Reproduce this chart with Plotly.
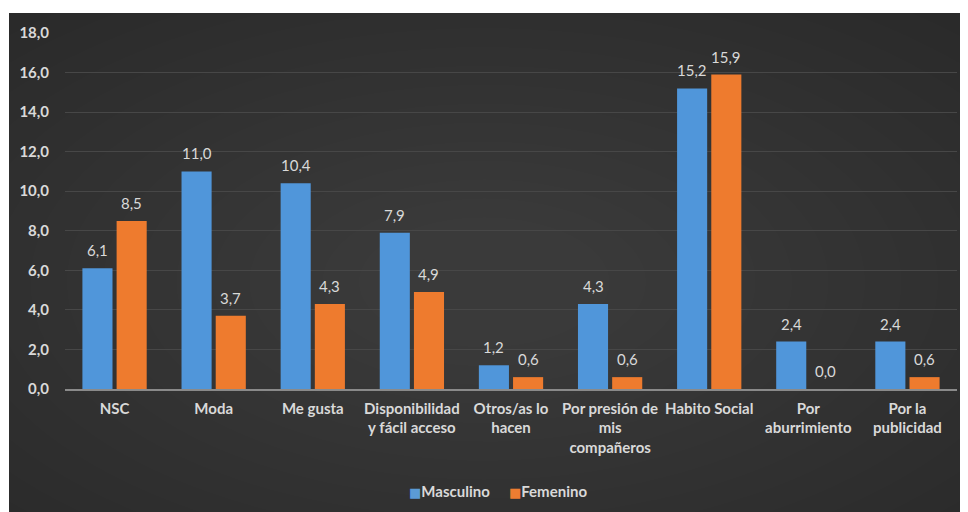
import plotly.graph_objects as go

categories = ["NSC", "Moda", "Me gusta", "Disponibilidad<br>y fácil acceso", "Otros/as lo<br>hacen",
              "Por presión de<br>mis<br>compañeros", "Habito Social", "Por<br>aburrimiento", "Por la<br>publicidad"]
masculino = [6.1, 11.0, 10.4, 7.9, 1.2, 4.3, 15.2, 2.4, 2.4]
femenino = [8.5, 3.7, 4.3, 4.9, 0.6, 0.6, 15.9, 0.0, 0.6]
y_ticks = [0, 2, 4, 6, 8, 10, 12, 14, 16, 18]
series_names = ["Masculino", "Femenino"]
series_colors = ["#5096da", "#ee7b2e"]

FONT = "Lato, 'Open Sans', sans-serif"
TXT = "#d9d9d9"

W, H = 960, 504
ML, MR, MT, MB = 57, 11, 25, 123
BARGAP, GROUPGAP = 0.31, 0.12
plot_w = W - ML - MR

fig = go.Figure()
for name, vals, col in zip(series_names, [masculino, femenino], series_colors):
    fig.add_trace(go.Bar(x=categories, y=vals, name=name,
                         marker=dict(color=col, line=dict(width=0)), showlegend=False))

# data labels above each bar (lifted a bit more than plotly's default outside text)
slot_px = plot_w / len(categories) * (1 - BARGAP) / 2
annotations = []
for k, vals in enumerate([masculino, femenino]):
    shift = (k - 0.5) * slot_px
    for c, v in zip(categories, vals):
        annotations.append(dict(x=c, y=v, xref="x", yref="y", text=f"{v:.1f}".replace(".", ","),
                                showarrow=False, xshift=shift, yshift=7, yanchor="bottom",
                                font=dict(size=15, color=TXT, family=FONT)))

# legend drawn as text
for name, col, px in zip(series_names, ["#5b9bd5", "#ed7d31"], [0.431, 0.541]):
    annotations.append(dict(xref="paper", yref="paper", x=px, y=-0.2865, xanchor="center", yanchor="middle",
                            showarrow=False,
                            text=f"<span style='color:{col};font-family:DejaVu Sans;font-size:13px'>■</span><b>{name}</b>",
                            font=dict(size=15, color=TXT, family=FONT)))

# background panel (dark, lighter towards the centre)
X0, Y1, Y0, X1 = -0.0628, 1.0562, -0.5, 1.05
shapes = [dict(type="rect", xref="paper", yref="paper", x0=X0, x1=X1, y0=Y0, y1=Y1,
               fillcolor="#242424", line=dict(width=0), layer="below")]
cx, cy = 0.47, 0.3
n = 22
for i in range(n):
    r = 1.0 - i * (0.9 / n)
    shapes.append(dict(type="circle", xref="paper", yref="paper",
                       x0=cx - r, x1=cx + r, y0=cy - r * 1.3, y1=cy + r * 1.3,
                       fillcolor="rgba(255,255,255,0.0095)", line=dict(width=0), layer="below"))
shapes.append(dict(type="rect", xref="paper", yref="paper", x0=-0.3, x1=X0, y0=-0.6, y1=1.3,
                   fillcolor="white", line=dict(width=0), layer="below"))
shapes.append(dict(type="rect", xref="paper", yref="paper", x0=-0.3, x1=1.3, y0=Y1, y1=1.3,
                   fillcolor="white", line=dict(width=0), layer="below"))

fig.update_layout(
    width=W, height=H,
    margin=dict(l=ML, r=MR, t=MT, b=MB, autoexpand=False),
    paper_bgcolor="white", plot_bgcolor="rgba(0,0,0,0)",
    separators=",.",
    barmode="group", bargap=BARGAP, bargroupgap=GROUPGAP,
    font=dict(family=FONT, color=TXT),
    showlegend=False,
    shapes=shapes,
    annotations=annotations,
)
fig.update_yaxes(range=[0, 18], tickvals=y_ticks, tickformat=".1f", automargin=False,
                 gridcolor="#474747", gridwidth=1, zeroline=False, showline=False,
                 tickfont=dict(size=15, color=TXT, family=FONT, weight="bold"),
                 ticks="", ticklabelstandoff=15)
fig.update_xaxes(showline=True, linecolor="#8a8a8a", linewidth=1.5, ticks="", automargin=False,
                 tickfont=dict(size=15, color=TXT, family=FONT, weight="bold"), tickangle=0,
                 ticklabelstandoff=5)

fig.write_html("out.html")
